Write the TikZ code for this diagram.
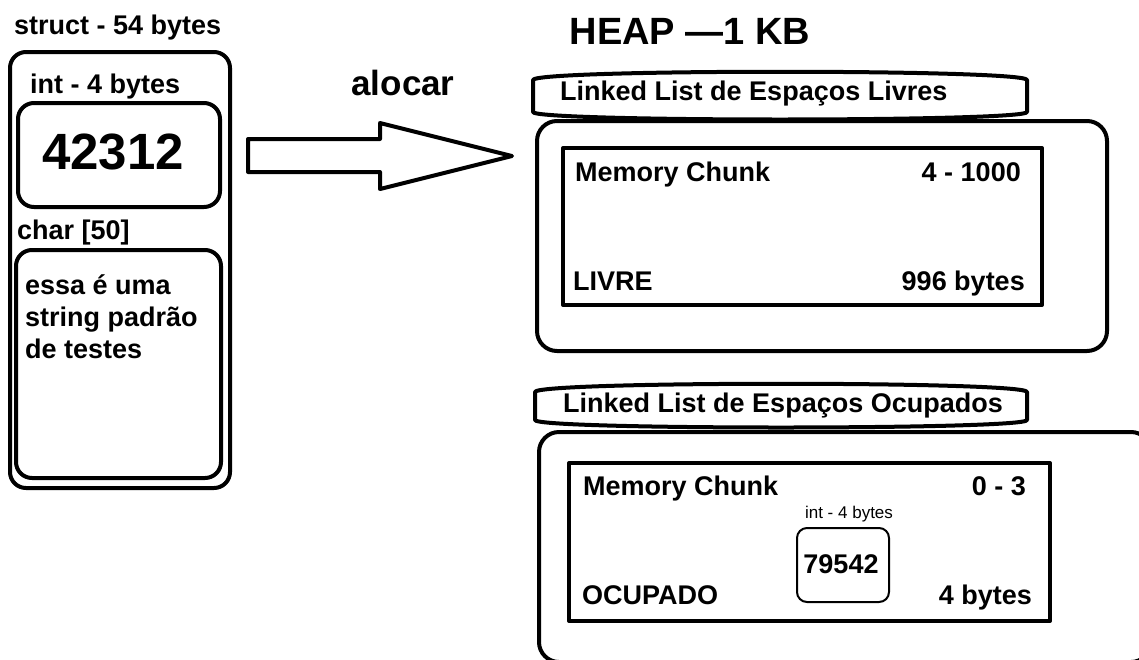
\documentclass[tikz,border=0pt]{standalone}
\usepackage{fontspec}
\setmainfont{Liberation Sans}
\usetikzlibrary{positioning}

\tikzset{
  thickbox/.style={line width=4pt,rounded corners=16pt},
  chunkbox/.style={line width=4pt},
  lbl/.style={font=\fontsize{27}{32}\selectfont\bfseries,inner sep=0pt},
  biglbl/.style={font=\fontsize{#1}{#1}\selectfont\bfseries,inner sep=0pt},
}

\begin{document}
\begin{tikzpicture}[x=1pt,y=-1pt,join=round]
\useasboundingbox (0,0) rectangle (1139,659); % Struct
\node[lbl,anchor=base west] (structname) at (14,34) {struct - 54 bytes};
\draw[thickbox] (10,52) rectangle (230,488);
\node[lbl,anchor=base west] (intname) at (30,93) {int - 4 bytes};
\draw[thickbox] (18,103) rectangle (220,207);
\node[biglbl=51,anchor=base] (intval) at (113,169) {42312};
\node[lbl,anchor=base west] (charname) at (17,239) {char [50]};
\draw[thickbox] (16,250) rectangle (221,478);
\node[lbl,anchor=north west,align=left] (charval) at (25,274) {essa é uma\\string padrão\\de testes};
% Alocar arrow
\node[biglbl=35,anchor=base] (alocar) at (403,95) {alocar};
\draw[line width=4pt] (248,139)--(380,139)--(380,123)--(512,156)--(380,189)--(380,172)--(248,172)--cycle;
% Heap
\node[biglbl=38,anchor=base] (heap) at (690,44) {HEAP —1 KB};
\draw[line width=4pt] (533,112)--(533,80) .. controls (533,69) and (1027,69) .. (1027,80)--(1027,112) .. controls (1027,122) and (533,122) .. (533,112)--cycle;
\node[lbl,anchor=base west] (livreslist) at (560,100) {Linked List de Espaços Livres};
\draw[thickbox,rounded corners=20pt] (537,121) rectangle (1107,351);
\draw[chunkbox] (563,148) rectangle (1042,305);
\node[lbl,anchor=base west] (livrechunk) at (575,181) {Memory Chunk};
\node[lbl,anchor=base east] (livrerange) at (1021,181) {4 - 1000};
\node[lbl,anchor=base west] (livrestate) at (573,290) {LIVRE};
\node[lbl,anchor=base east] (livresize) at (1025,290) {996 bytes};
\draw[line width=4pt] (535,420)--(535,392) .. controls (535,381) and (1027,381) .. (1027,392)--(1027,420) .. controls (1027,430) and (535,430) .. (535,420)--cycle;
\node[lbl,anchor=base west] (ocuplist) at (563,412) {Linked List de Espaços Ocupados};
\draw[thickbox,rounded corners=20pt] (539,432) rectangle (1151,662);
\draw[chunkbox] (569,463) rectangle (1050,621);
\node[lbl,anchor=base west] (ocupchunk) at (583,495) {Memory Chunk};
\node[lbl,anchor=base east] (ocuprange) at (1026,495) {0 - 3};
\node[lbl,anchor=base west] (ocupstate) at (582,604) {OCUPADO};
\node[lbl,anchor=base east] (ocupsize) at (1032,604) {4 bytes};
\node[font=\fontsize{17}{17}\selectfont,inner sep=0pt,anchor=base] (ocupint) at (849,518) {int - 4 bytes};
\draw[line width=2pt,rounded corners=10pt] (797,528) rectangle (889,602);
\node[lbl,anchor=base] (ocupval) at (841,573) {79542};
\end{tikzpicture}
\end{document}
